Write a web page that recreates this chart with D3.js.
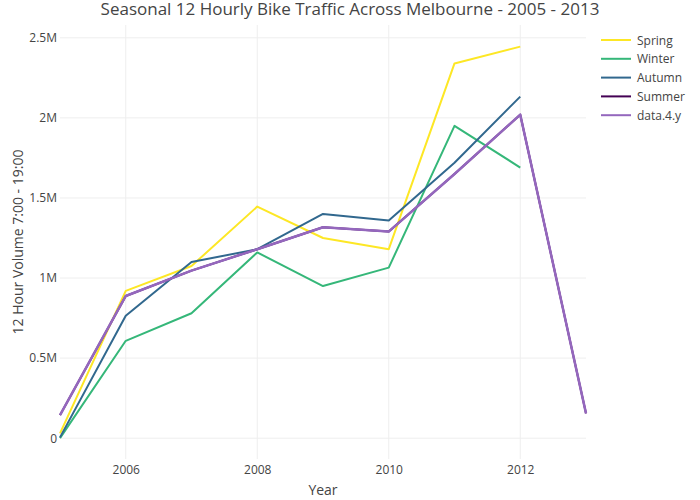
<!DOCTYPE html>
<html>
<head>
<meta charset="utf-8">
<script src="https://cdn.jsdelivr.net/npm/d3@7"></script>
<style>
  body { margin: 0; background: #fff; }
  text { font-family: "Open Sans", sans-serif; fill: #444; }
</style>
</head>
<body>
<svg id="chart" width="700" height="500"></svg>
<script>
// values (millions of trips)
const years = [2005, 2006, 2007, 2008, 2009, 2010, 2011, 2012, 2013];
const spring = [0.03, 0.92, 1.075, 1.446, 1.25, 1.18, 2.34, 2.445];
const winter = [0.0, 0.608, 0.78, 1.16, 0.95, 1.065, 1.95, 1.69];
const autumn = [0.005, 0.765, 1.10, 1.18, 1.40, 1.36, 1.72, 2.133];
const summer = [0.144, 0.888, 1.046, 1.18, 1.317, 1.29, 1.65, 2.02, 0.155];
const data4y = [0.144, 0.888, 1.046, 1.18, 1.317, 1.29, 1.65, 2.02, 0.155];
const yTicks = [0, 0.5, 1, 1.5, 2, 2.5];
const xTicks = [2006, 2008, 2010, 2012];

const series = [
  {name: "Spring", values: spring, color: "#fde725", w: 2},
  {name: "Winter", values: winter, color: "#35b779", w: 2},
  {name: "Autumn", values: autumn, color: "#31688e", w: 2},
  {name: "Summer", values: summer, color: "#440154", w: 2},
  {name: "data.4.y", values: data4y, color: "#9467bd", w: 2.5}
];

const width = 700, height = 500;
const margin = {top: 25, right: 114, bottom: 41, left: 60};

const svg = d3.select("#chart");

const x = d3.scaleLinear()
  .domain([2005, 2013])
  .range([margin.left, width - margin.right]);

const y = d3.scaleLinear()
  .domain([-0.13, 2.58])
  .range([height - margin.bottom, margin.top]);

// grid
svg.append("g")
  .selectAll("line")
  .data(xTicks)
  .join("line")
  .attr("x1", d => x(d)).attr("x2", d => x(d))
  .attr("y1", margin.top).attr("y2", height - margin.bottom)
  .attr("stroke", "#eee").attr("stroke-width", 1);

svg.append("g")
  .selectAll("line")
  .data(yTicks)
  .join("line")
  .attr("x1", margin.left).attr("x2", width - margin.right)
  .attr("y1", d => y(d)).attr("y2", d => y(d))
  .attr("stroke", "#eee").attr("stroke-width", 1);

// axes
const xAxis = g => g
  .attr("transform", `translate(0,${height - margin.bottom})`)
  .call(d3.axisBottom(x).tickValues(xTicks).tickFormat(d3.format("d")).tickSize(0).tickPadding(6))
  .call(g => g.select(".domain").remove())
  .call(g => g.selectAll("text").attr("font-size", 12).style("fill", "#444"));

const yAxis = g => g
  .attr("transform", `translate(${margin.left},0)`)
  .call(d3.axisLeft(y).tickValues(yTicks).tickFormat(d => d === 0 ? "0" : d + "M").tickSize(0).tickPadding(3))
  .call(g => g.select(".domain").remove())
  .call(g => g.selectAll("text").attr("font-size", 12).style("fill", "#444"));

svg.append("g").call(xAxis);
svg.append("g").call(yAxis);

// lines
const line = d3.line()
  .x((d, i) => x(years[i]))
  .y(d => y(d));

const plot = svg.append("g");
series.forEach(s => {
  plot.append("path")
    .datum(s.values)
    .attr("fill", "none")
    .attr("stroke", s.color)
    .attr("stroke-width", s.w)
    .attr("stroke-linejoin", "round")
    .attr("d", line);
});

// titles
svg.append("text")
  .attr("x", 350).attr("y", 15)
  .attr("text-anchor", "middle")
  .attr("font-size", 17)
  .text("Seasonal 12 Hourly Bike Traffic Across Melbourne - 2005 - 2013");

svg.append("text")
  .attr("x", (margin.left + width - margin.right) / 2)
  .attr("y", 495)
  .attr("text-anchor", "middle")
  .attr("font-size", 14)
  .text("Year");

svg.append("text")
  .attr("transform", `translate(23,${(margin.top + height - margin.bottom) / 2}) rotate(-90)`)
  .attr("text-anchor", "middle")
  .attr("font-size", 14)
  .text("12 Hour Volume 7:00 - 19:00");

// legend
const legend = svg.append("g").attr("transform", "translate(601,40)");
series.forEach((s, i) => {
  const row = legend.append("g").attr("transform", `translate(0,${i * 18.8})`);
  row.append("line")
    .attr("x1", 0).attr("x2", 30)
    .attr("stroke", s.color).attr("stroke-width", 2);
  row.append("text")
    .attr("x", 36).attr("y", 4.5)
    .attr("font-size", 12)
    .text(s.name);
});
</script>
</body>
</html>
